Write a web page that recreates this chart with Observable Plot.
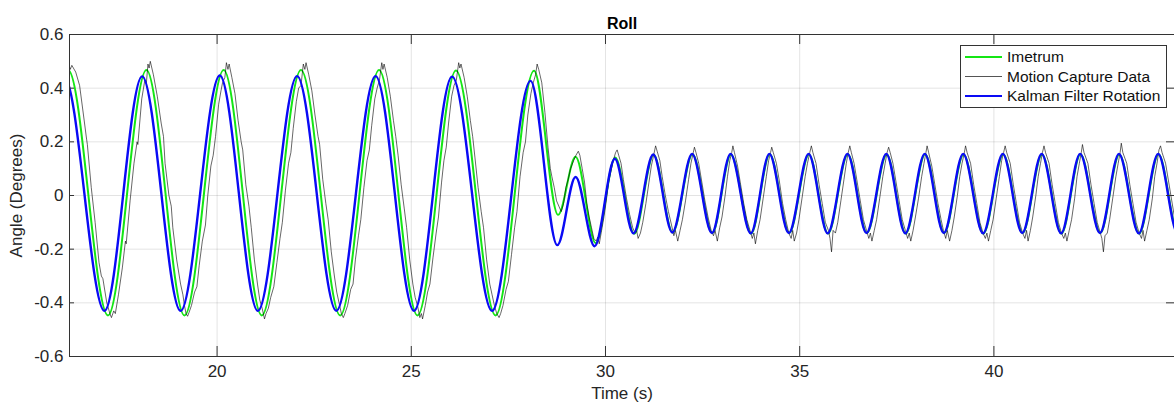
<!DOCTYPE html>
<html>
<head>
<meta charset="utf-8">
<script src="https://cdn.jsdelivr.net/npm/d3@7"></script>
<script src="https://cdn.jsdelivr.net/npm/@observablehq/plot@0.6"></script>
<style>
  html, body { margin: 0; padding: 0; background: #fff; }
  #wrap { position: relative; width: 1174px; height: 405px; font-family: "Liberation Sans", Arial, Helvetica, sans-serif; }
  #chart g[aria-label$="tick label"] text, #chart g[aria-label$="axis label"] text { font-size: 17px; }
  #legend { position: absolute; left: 960px; top: 45px; width: 207px; height: 63px; border: 1px solid #333; background: #fff; box-sizing: border-box; padding-top: 1px; }
  .row { display: flex; align-items: center; height: 19.7px; font-size: 15.5px; color: #111; }
  .sw { width: 37px; margin-left: 4px; margin-right: 5px; }
</style>
</head>
<body>
<div id="wrap"><div id="chart"></div><div id="legend"></div></div>
<script>
// ---- axes ----
const xTicks = [20, 25, 30, 35, 40];
const yTicks = [-0.6, -0.4, -0.2, 0, 0.2, 0.4, 0.6];
const xDomain = [16.2, 44.65];
const yDomain = [-0.6, 0.6];

// ---- legend ----
const seriesNames = ["Imetrum", "Motion Capture Data", "Kalman Filter Rotation"];

// ---- Imetrum (green): extremes [time, angle] ----
const imetrum = [
  [15.2,-0.447],[16.17,0.466],[17.19,-0.447],[18.18,0.468],[19.16,-0.447],[20.17,0.468],
  [21.15,-0.447],[22.16,0.468],[23.17,-0.447],[24.17,0.468],[25.16,-0.447],[26.15,0.466],
  [27.17,-0.447],[28.16,0.465],[28.78,-0.072],[29.23,0.144],[29.75,-0.178],[30.25,0.142],
  [30.74,-0.143],[31.24,0.152],[31.73,-0.138],[32.24,0.154],[32.75,-0.14],[33.23,0.153],
  [33.75,-0.142],[34.23,0.154],[34.73,-0.14],[35.24,0.153],[35.73,-0.142],[36.24,0.154],
  [36.73,-0.14],[37.24,0.153],[37.73,-0.142],[38.23,0.154],[38.72,-0.14],[39.22,0.153],
  [39.73,-0.142],[40.24,0.154],[40.74,-0.14],[41.24,0.153],[41.74,-0.142],[42.23,0.154],
  [42.74,-0.14],[43.23,0.153],[43.74,-0.142],[44.24,0.154],[44.74,-0.14],[45.2,0.15]
];

// ---- Kalman Filter Rotation (blue): extremes ----
const kalman = [
  [15.1,-0.43],[16.07,0.44],[17.10,-0.43],[18.07,0.444],[19.06,-0.43],[20.07,0.447],
  [21.05,-0.43],[22.06,0.445],[23.07,-0.43],[24.08,0.445],[25.07,-0.43],[26.05,0.443],
  [27.08,-0.43],[28.07,0.427],[28.76,-0.185],[29.23,0.069],[29.72,-0.189],[30.24,0.137],
  [30.72,-0.141],[31.23,0.153],[31.72,-0.138],[32.23,0.155],[32.74,-0.14],[33.22,0.155],
  [33.74,-0.141],[34.22,0.155],[34.72,-0.14],[35.23,0.155],[35.72,-0.141],[36.23,0.155],
  [36.72,-0.14],[37.23,0.155],[37.72,-0.141],[38.22,0.155],[38.71,-0.14],[39.21,0.155],
  [39.72,-0.141],[40.23,0.155],[40.73,-0.14],[41.23,0.155],[41.73,-0.141],[42.22,0.155],
  [42.73,-0.14],[43.22,0.155],[43.73,-0.141],[44.23,0.155],[44.73,-0.14],[45.2,0.15]
];

// ---- Motion Capture Data (black, noisy): samples ----
const mocap = [
  [16.10,0.47],[16.18,0.49],[16.22,0.47],[16.26,0.485],[16.36,0.46],[16.46,0.41],[16.56,0.30],
  [16.64,0.21],[16.66,0.19],[16.76,0.03],[16.86,-0.10],[16.96,-0.25],[17.02,-0.30],[17.06,-0.31],
  [17.16,-0.40],[17.24,-0.44],[17.28,-0.455],[17.34,-0.43],[17.38,-0.44],[17.46,-0.37],[17.56,-0.27],
  [17.64,-0.17],[17.66,-0.18],[17.76,-0.02],[17.86,0.12],[17.94,0.20],[17.96,0.19],[18.06,0.36],
  [18.14,0.43],[18.18,0.42],[18.22,0.49],[18.25,0.475],[18.28,0.50],[18.36,0.45],[18.46,0.37],
  [18.56,0.27],[18.62,0.22],[18.66,0.12],[18.76,0.00],[18.82,-0.04],[18.86,-0.12],[18.96,-0.24],
  [19.06,-0.33],[19.12,-0.37],[19.16,-0.41],[19.20,-0.44],[19.24,-0.45],[19.28,-0.435],[19.34,-0.41],
  [19.42,-0.36],[19.48,-0.34],[19.54,-0.26],[19.62,-0.17],[19.70,-0.11],[19.76,0.00],[19.84,0.11],
  [19.90,0.15],[19.96,0.22],[20.04,0.34],[20.10,0.39],[20.14,0.42],[20.20,0.44],[20.24,0.495],
  [20.28,0.47],[20.31,0.49],[20.38,0.44],[20.46,0.38],[20.54,0.28],[20.62,0.20],[20.66,0.17],
  [20.74,0.04],[20.82,-0.04],[20.88,-0.12],[20.96,-0.24],[21.04,-0.33],[21.10,-0.39],[21.16,-0.42],
  [21.22,-0.46],[21.26,-0.44],[21.32,-0.42],[21.38,-0.38],[21.46,-0.34],[21.54,-0.25],[21.62,-0.16],
  [21.68,-0.10],[21.76,0.02],[21.84,0.12],[21.90,0.16],[21.96,0.25],[22.04,0.35],[22.10,0.40],
  [22.16,0.41],[22.22,0.49],[22.26,0.47],[22.29,0.495],[22.36,0.45],[22.44,0.39],[22.52,0.30],
  [22.60,0.22],[22.64,0.19],[22.72,0.06],[22.80,-0.03],[22.86,-0.09],[22.94,-0.21],[23.02,-0.30],
  [23.08,-0.36],[23.14,-0.40],[23.20,-0.44],[23.25,-0.455],[23.29,-0.44],[23.36,-0.41],[23.44,-0.35],
  [23.50,-0.33],[23.56,-0.24],[23.64,-0.15],[23.70,-0.09],[23.78,0.03],[23.86,0.13],[23.92,0.17],
  [23.98,0.26],[24.06,0.36],[24.12,0.40],[24.18,0.43],[24.24,0.495],[24.27,0.47],[24.30,0.49],
  [24.38,0.44],[24.46,0.37],[24.54,0.28],[24.60,0.22],[24.66,0.15],[24.74,0.04],[24.82,-0.05],
  [24.88,-0.12],[24.96,-0.24],[25.04,-0.33],[25.10,-0.38],[25.16,-0.41],[25.22,-0.455],[25.26,-0.44],
  [25.29,-0.46],[25.36,-0.41],[25.42,-0.36],[25.48,-0.33],[25.56,-0.23],[25.64,-0.14],[25.70,-0.08],
  [25.78,0.05],[25.84,0.13],[25.90,0.18],[25.96,0.27],[26.04,0.37],[26.10,0.41],[26.16,0.43],
  [26.22,0.495],[26.25,0.475],[26.28,0.49],[26.36,0.44],[26.44,0.37],[26.52,0.28],[26.58,0.22],
  [26.64,0.14],[26.72,0.03],[26.80,-0.06],[26.86,-0.12],[26.94,-0.24],[27.02,-0.33],[27.08,-0.37],
  [27.14,-0.41],[27.20,-0.44],[27.26,-0.455],[27.30,-0.44],[27.36,-0.41],[27.44,-0.35],[27.50,-0.32],
  [27.58,-0.22],[27.66,-0.12],[27.72,-0.06],[27.80,0.07],[27.88,0.16],[27.94,0.20],[28.00,0.30],
  [28.08,0.38],[28.14,0.42],[28.20,0.45],[28.24,0.49],[28.28,0.47],[28.36,0.42],[28.44,0.31],
  [28.52,0.18],[28.58,0.10],[28.62,0.07],[28.68,0.03],[28.74,-0.02],[28.80,-0.04],[28.86,-0.06],
  [28.92,-0.03],[28.98,0.03],[29.04,0.06],[29.10,0.10],[29.18,0.13],[29.24,0.15],[29.30,0.165],
  [29.34,0.15],[29.40,0.10],[29.46,0.05],[29.52,-0.03],[29.58,-0.08],[29.64,-0.12],[29.70,-0.16],
  [29.76,-0.17],[29.80,-0.155],[29.84,-0.18],[29.90,-0.13],[29.96,-0.08],[30.02,-0.02],[30.08,0.05],
  [30.14,0.09],[30.20,0.13],[30.26,0.16],[30.30,0.17],[30.34,0.15],[30.40,0.12],[30.46,0.06],
  [30.54,-0.01],[30.62,-0.07],[30.70,-0.12],[30.76,-0.14],[30.80,-0.13],[30.84,-0.16],[30.90,-0.14],
  [30.96,-0.10],[31.04,-0.03],[31.12,0.05],[31.18,0.11],[31.24,0.15],[31.29,0.185],[31.33,0.165],
  [31.40,0.13],[31.46,0.07],[31.54,0.00],[31.62,-0.06],[31.70,-0.11],[31.76,-0.15],[31.80,-0.13],
  [31.86,-0.17],[31.92,-0.13],[31.98,-0.09],[32.06,-0.02],[32.14,0.06],[32.20,0.12],[32.26,0.16],
  [32.29,0.18],[32.33,0.16],[32.40,0.12],[32.48,0.05],[32.56,-0.02],[32.64,-0.08],[32.72,-0.13],
  [32.78,-0.15],[32.82,-0.13],[32.88,-0.17],[32.94,-0.12],[33.00,-0.08],[33.08,0.00],[33.14,0.07],
  [33.20,0.13],[33.25,0.16],[33.28,0.185],[33.32,0.16],[33.40,0.11],[33.48,0.04],[33.56,-0.03],
  [33.64,-0.09],[33.72,-0.13],[33.78,-0.16],[33.82,-0.14],[33.86,-0.18],[33.92,-0.13],[33.98,-0.09],
  [34.06,-0.01],[34.14,0.07],[34.20,0.13],[34.25,0.16],[34.28,0.18],[34.32,0.16],[34.40,0.12],
  [34.48,0.05],[34.56,-0.03],[34.64,-0.09],[34.72,-0.14],[34.78,-0.16],[34.82,-0.13],[34.86,-0.17],
  [34.92,-0.14],[34.98,-0.09],[35.06,-0.01],[35.14,0.07],[35.20,0.12],[35.26,0.16],[35.30,0.185],
  [35.34,0.16],[35.42,0.12],[35.50,0.04],[35.58,-0.03],[35.66,-0.10],[35.74,-0.13],[35.78,-0.16],
  [35.82,-0.21],[35.86,-0.13],[35.92,-0.14],[35.98,-0.10],[36.06,-0.02],[36.14,0.06],[36.20,0.12],
  [36.25,0.16],[36.29,0.185],[36.33,0.16],[36.40,0.12],[36.48,0.05],[36.56,-0.02],[36.64,-0.09],
  [36.72,-0.13],[36.78,-0.16],[36.82,-0.14],[36.86,-0.17],[36.92,-0.13],[36.98,-0.09],[37.06,-0.01],
  [37.14,0.07],[37.20,0.12],[37.25,0.16],[37.29,0.18],[37.33,0.16],[37.40,0.12],[37.48,0.05],
  [37.56,-0.02],[37.64,-0.09],[37.72,-0.13],[37.78,-0.16],[37.82,-0.14],[37.86,-0.17],[37.92,-0.13],
  [37.98,-0.08],[38.06,-0.01],[38.14,0.07],[38.20,0.12],[38.25,0.16],[38.28,0.185],[38.32,0.16],
  [38.40,0.11],[38.48,0.04],[38.56,-0.03],[38.64,-0.09],[38.70,-0.13],[38.76,-0.16],[38.80,-0.13],
  [38.86,-0.17],[38.92,-0.13],[38.98,-0.08],[39.06,0.00],[39.12,0.07],[39.18,0.12],[39.24,0.16],
  [39.27,0.185],[39.31,0.16],[39.40,0.12],[39.48,0.04],[39.56,-0.03],[39.64,-0.10],[39.72,-0.14],
  [39.78,-0.16],[39.82,-0.14],[39.86,-0.17],[39.92,-0.13],[39.98,-0.09],[40.06,-0.01],[40.14,0.07],
  [40.20,0.13],[40.25,0.16],[40.29,0.185],[40.33,0.16],[40.42,0.12],[40.50,0.04],[40.58,-0.03],
  [40.66,-0.10],[40.74,-0.14],[40.80,-0.16],[40.84,-0.13],[40.88,-0.17],[40.94,-0.13],[41.00,-0.08],
  [41.08,0.00],[41.14,0.07],[41.20,0.12],[41.25,0.16],[41.29,0.185],[41.33,0.16],[41.42,0.12],
  [41.50,0.04],[41.58,-0.03],[41.66,-0.10],[41.74,-0.14],[41.80,-0.16],[41.84,-0.14],[41.88,-0.17],
  [41.94,-0.13],[42.00,-0.09],[42.08,-0.01],[42.14,0.07],[42.20,0.12],[42.25,0.16],[42.28,0.19],
  [42.32,0.16],[42.42,0.12],[42.50,0.04],[42.58,-0.03],[42.66,-0.10],[42.74,-0.14],[42.78,-0.16],
  [42.82,-0.21],[42.86,-0.15],[42.92,-0.14],[42.98,-0.09],[43.06,-0.01],[43.14,0.07],[43.20,0.12],
  [43.25,0.16],[43.28,0.195],[43.32,0.16],[43.42,0.12],[43.50,0.04],[43.58,-0.03],[43.66,-0.10],
  [43.74,-0.14],[43.80,-0.16],[43.84,-0.13],[43.88,-0.17],[43.94,-0.13],[44.00,-0.09],[44.08,-0.01],
  [44.14,0.07],[44.20,0.12],[44.25,0.17],[44.29,0.185],[44.33,0.16],[44.42,0.12],[44.50,0.05],
  [44.58,-0.02],[44.66,-0.09],[44.74,-0.13],[44.80,-0.16]
];

// ---- styles ----
const colors = ["#14e614", "#000000", "#0a0af5"];
const widths = [2, 0.6, 2.4];

const W = 1174, H = 405, mL = 69, mR = 0, mT = 34, mB = 49;
const frameW = W - mL - mR, frameH = H - mT - mB;
const axisColor = "#333";
const textColor = "#262626";
const fontPx = 17;

const chart = Plot.plot({
  width: W, height: H,
  marginLeft: mL, marginRight: mR, marginTop: mT, marginBottom: mB,
  style: { fontFamily: '"Liberation Sans", Arial, Helvetica, sans-serif', color: textColor, background: "#fff" },
  x: { domain: xDomain },
  y: { domain: yDomain },
  marks: [
    Plot.gridX(xTicks, { stroke: "#000", strokeOpacity: 0.11 }),
    Plot.gridY(yTicks, { stroke: "#000", strokeOpacity: 0.11 }),
    Plot.line(imetrum, { x: d => d[0], y: d => d[1], stroke: colors[0], strokeWidth: widths[0], curve: "monotone-x", clip: true }),
    Plot.line(mocap, { x: d => d[0], y: d => d[1], stroke: colors[1], strokeWidth: widths[1], clip: true }),
    Plot.line(kalman, { x: d => d[0], y: d => d[1], stroke: colors[2], strokeWidth: widths[2], curve: "monotone-x", clip: true }),
    Plot.axisX(xTicks, { anchor: "bottom", tickSize: 0, tickPadding: 8, tickFormat: d => String(d), fontSize: fontPx,
      label: "Time (s)", labelAnchor: "center", labelOffset: 42, labelArrow: "none" }),
    Plot.axisY(yTicks, { anchor: "left", tickSize: 0, tickPadding: 6, tickFormat: d => String(d), fontSize: fontPx,
      label: "Angle (Degrees)", labelAnchor: "center", labelOffset: 60, labelArrow: "none" }),
    Plot.tickX(xTicks, { x: d => d, insetTop: frameH - 10, stroke: axisColor }),
    Plot.tickX(xTicks, { x: d => d, insetBottom: frameH - 10, stroke: axisColor }),
    Plot.tickY(yTicks, { y: d => d, insetRight: frameW - 5, stroke: axisColor }),
    Plot.tickY(yTicks, { y: d => d, insetLeft: frameW - 8, stroke: axisColor }),
    Plot.frame({ stroke: axisColor, strokeWidth: 1 }),
    Plot.text(["Roll"], { text: d => d, frameAnchor: "top", lineAnchor: "middle", dy: -11, fontWeight: "bold", fontSize: 16, fill: "#000" })
  ]
});
document.getElementById("chart").appendChild(chart);

// legend
const legend = document.getElementById("legend");
seriesNames.forEach((name, i) => {
  const row = document.createElement("div");
  row.className = "row";
  const sw = document.createElement("div");
  sw.className = "sw";
  sw.style.borderTop = `${widths[i] < 1 ? 1 : widths[i]}px solid ${i === 1 ? "#555" : colors[i]}`;
  const txt = document.createElement("span");
  txt.textContent = name;
  row.appendChild(sw); row.appendChild(txt);
  legend.appendChild(row);
});
</script>
</body>
</html>
